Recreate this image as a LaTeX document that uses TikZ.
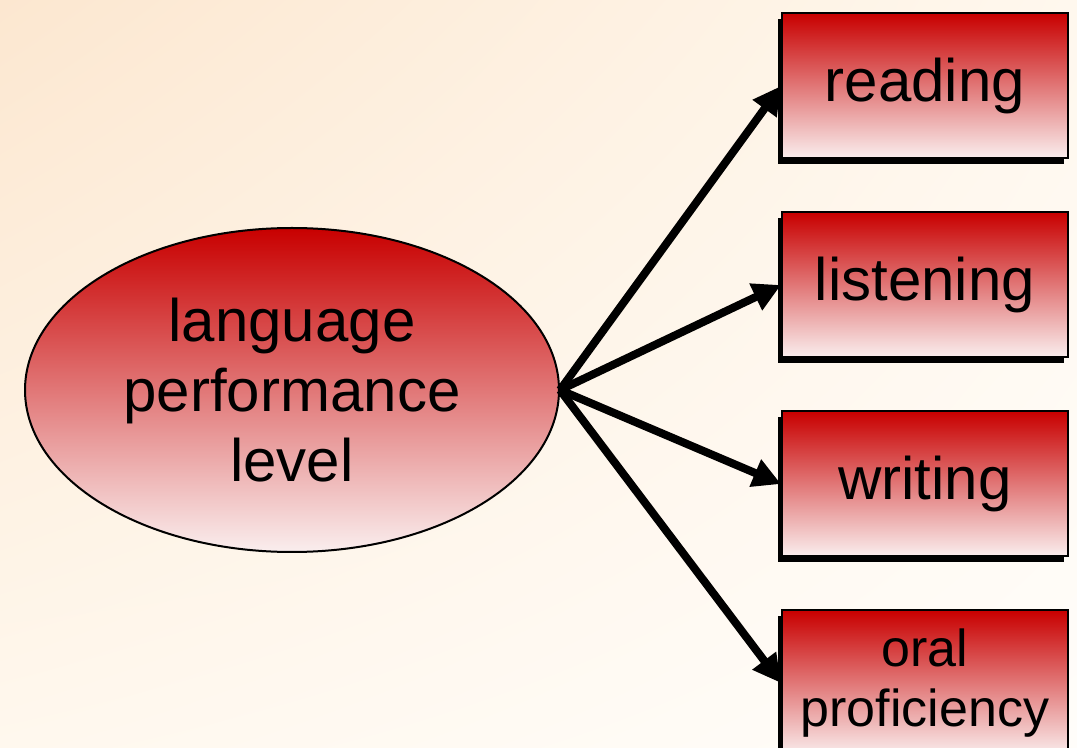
\documentclass[tikz,border=0pt]{standalone}
\usepackage{fontspec}
\setmainfont{Liberation Sans}
\usepackage{tikz}
\usetikzlibrary{shapes.geometric, arrows.meta, positioning, shadows, shadings}

\definecolor{peach}{RGB}{252,231,208}
\definecolor{cream}{RGB}{255,248,238}
\definecolor{paper}{RGB}{255,253,250}
\definecolor{redtop}{RGB}{200,0,0}
\definecolor{pinkbottom}{RGB}{250,238,238}

\begin{document}
\begin{tikzpicture}[
  x=0.5pt, y=-0.5pt,
  measure/.style={ellipse, draw, line width=1pt, top color=redtop, bottom color=pinkbottom,
    minimum width=267pt, minimum height=162pt, align=center, font=\fontsize{30}{35}\selectfont},
  skill/.style={rectangle, draw, line width=1pt, top color=redtop, bottom color=pinkbottom,
    minimum width=143pt, minimum height=72.5pt, align=center, font=\fontsize{30}{31}\selectfont,
    drop shadow={shadow xshift=-2pt, shadow yshift=-3pt, fill=black, opacity=1}},
  link/.style={-{Triangle[length=14pt, width=14pt]}, line width=4pt}
]
  \useasboundingbox (0,0) rectangle (1077,748);
  \clip (0,0) rectangle (1077,748);
  \shade[upper left=peach, upper right=cream, lower left=cream, lower right=paper]
    (0,0) rectangle (1077,748);

  \node[measure] (level) at (292,390) {language\\performance\\level};

  \node[skill] (reading) at (925,86) {reading};
  \node[skill, below=26pt of reading] (listening) {listening};
  \node[skill, below=26pt of listening] (writing) {writing};
  \node[skill, below=26pt of writing, font=\fontsize{26}{30}\selectfont] (oral) {oral\\proficiency};

  \draw[link] (level.east) -- (reading.west);
  \draw[link] (level.east) -- (listening.west);
  \draw[link] (level.east) -- (writing.west);
  \draw[link] (level.east) -- (oral.west);
\end{tikzpicture}
\end{document}
